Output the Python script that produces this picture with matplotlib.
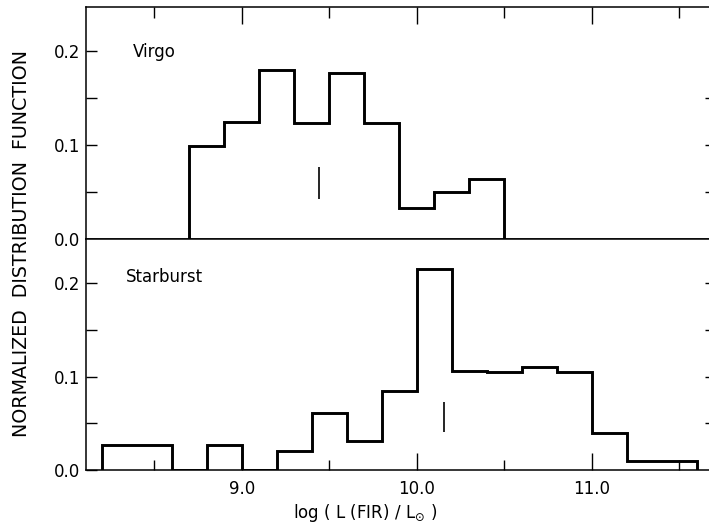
import matplotlib
matplotlib.use("Agg")
import matplotlib.pyplot as plt
from matplotlib.ticker import FixedLocator

plt.rcParams['font.family'] = ['DejaVu Sans']
plt.rcParams['mathtext.fontset'] = 'dejavusans'

# Virgo: 0.2-wide bins from 8.7 to 10.5
virgo_edges = [8.7, 8.9, 9.1, 9.3, 9.5, 9.7, 9.9, 10.1, 10.3, 10.5]
virgo_vals = [0.099, 0.125, 0.180, 0.124, 0.177, 0.124, 0.033, 0.050, 0.064]
virgo_mean = 9.44
virgo_mark = (0.043, 0.077)

# Starburst: 0.2-wide bins from 8.2 to 11.6
sb_edges = [8.2, 8.4, 8.6, 8.8, 9.0, 9.2, 9.4, 9.6, 9.8, 10.0, 10.2,
            10.4, 10.6, 10.8, 11.0, 11.2, 11.4, 11.6]
sb_vals = [0.027, 0.027, 0.0, 0.027, 0.0, 0.020, 0.061, 0.031, 0.085,
           0.215, 0.106, 0.105, 0.110, 0.105, 0.040, 0.0095, 0.0095]
sb_mean = 10.155
sb_mark = (0.041, 0.073)

xticks_major = [9.0, 10.0, 11.0]
xtick_labels = ['9.0', '10.0', '11.0']

fig = plt.figure(figsize=(7.09, 5.29), dpi=100)
ax1 = fig.add_axes([0.1213, 0.548, 0.8787, 0.4388])
ax2 = fig.add_axes([0.1213, 0.1115, 0.8787, 0.4365])

lw = 2.1
for ax, edges, vals, mean, mark in [(ax1, virgo_edges, virgo_vals, virgo_mean, virgo_mark),
                                    (ax2, sb_edges, sb_vals, sb_mean, sb_mark)]:
    ax.stairs(vals, edges, baseline=0, fill=False, color='black', linewidth=lw)
    ax.vlines(mean, mark[0], mark[1], color='black', linewidth=1.2)
    ax.set_xlim(8.109, 11.669)
    ax.set_ylim(0, 0.247)
    ax.spines['right'].set_visible(False)
    for s in ['left', 'top', 'bottom']:
        ax.spines[s].set_linewidth(1.1)
    ax.xaxis.set_major_locator(FixedLocator(xticks_major))
    ax.xaxis.set_minor_locator(FixedLocator([8.5, 9.5, 10.5, 11.5]))
    ax.yaxis.set_major_locator(FixedLocator([0.0, 0.1, 0.2]))
    ax.yaxis.set_minor_locator(FixedLocator([0.05, 0.15]))
    ax.tick_params(axis='y', which='both', direction='in', length=8, width=1.0,
                   labelsize=12, pad=4, right=False)
    ax.set_yticklabels(['0.0', '0.1', '0.2'])

    # short ticks on the right edge
    rax = ax.secondary_yaxis('right')
    rax.spines['right'].set_visible(False)
    rax.set_yticks([0.05, 0.10, 0.15] if ax is ax1 else [0.05, 0.10, 0.15, 0.20])
    rax.tick_params(direction='in', length=3, width=1.0, labelright=False)

ax1.tick_params(axis='x', which='major', direction='in', length=12, width=1.0,
                top=True, bottom=False, labelbottom=False)
ax1.tick_params(axis='x', which='minor', direction='in', length=8, width=1.0,
                top=True, bottom=False)

ax2.tick_params(axis='x', which='major', direction='in', length=12, width=1.0,
                top=False, bottom=True, labelsize=12, pad=7)
ax2.tick_params(axis='x', which='minor', direction='in', length=7, width=1.0,
                top=False, bottom=True)
ax2.set_xticklabels(xtick_labels)

ax1.text(0.0754, 0.785, 'Virgo', transform=ax1.transAxes, fontsize=12,
         va='baseline', ha='left')
ax2.text(0.064, 0.816, 'Starburst', transform=ax2.transAxes, fontsize=12,
         va='baseline', ha='left')

fig.text(22 / 709, 1 - 243.5 / 529, 'NORMALIZED  DISTRIBUTION  FUNCTION',
         rotation=90, ha='center', va='center', fontsize=13.7)
fig.text(365 / 709, 1 - 518 / 529, r'log ( L (FIR) / L$_{\odot}$ )',
         ha='center', va='baseline', fontsize=12)

fig.savefig('out.png', dpi=100)
